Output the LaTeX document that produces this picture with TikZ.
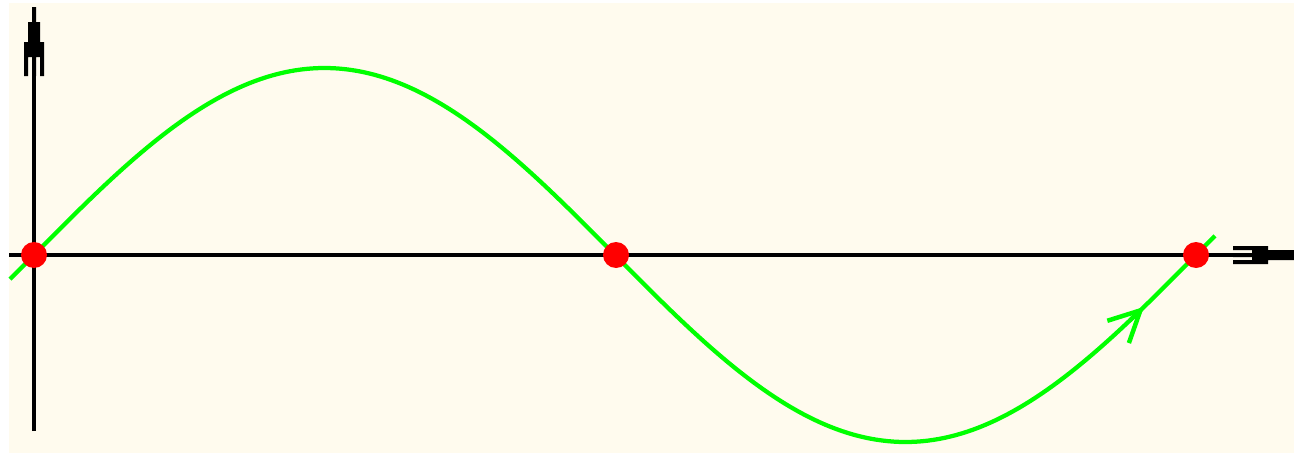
\documentclass[tikz,border=0pt]{standalone}
\usepackage{tikz}
\usetikzlibrary{arrows.meta}
\definecolor{bgcream}{RGB}{255,251,238}
\definecolor{wavegreen}{RGB}{0,255,0}
\definecolor{dotred}{RGB}{255,0,0}
\tikzset{
    axisline/.style={line width=0.08cm, black},
    tipfill/.style={fill=black},
    wave/.style={line width=0.085cm, wavegreen},
    zeropt/.style={circle, fill=dotred, inner sep=0pt, minimum size=0.52cm}
}

\begin{document}
\begin{tikzpicture}[x=0.02cm, y=-0.02cm,
    midarrow/.style={-{Straight Barb[length=0.62cm, width=0.62cm, line width=0.09cm]}}
]
    \useasboundingbox (0,0) rectangle (1294,453);
    \fill[bgcream] (9,3) rectangle (1294,453);

    % axes
    \draw[axisline] (34,431) -- (34,60);
    \draw[axisline] (9,255) -- (1240,255);
    % tip of the vertical axis
    \fill[tipfill] (32,7) rectangle (36,22) (28,22) rectangle (40,42) (24,42) rectangle (44,57)
        (24,57) rectangle (28,76) (32,57) rectangle (36,76) (40,57) rectangle (44,76);
    % tip of the horizontal axis
    \fill[tipfill] (1268,250) rectangle (1294,260) (1252,246) rectangle (1268,264)
        (1233,246) rectangle (1252,250) (1233,260) rectangle (1252,264) (1233,253) rectangle (1252,257);

    % wave, split where its arrow sits
    \draw[wave, midarrow] plot[domain=10:1144, samples=200] (\x, {255-187*sin(0.309811*(\x-34))});
    \draw[wave] plot[domain=1130:1215, samples=20] (\x, {255-187*sin(0.309811*(\x-34))});

    \node[zeropt] (z0) at (34,255) {};
    \node[zeropt] (z1) at (616,255) {};
    \node[zeropt] (z2) at (1196,255) {};
\end{tikzpicture}
\end{document}
